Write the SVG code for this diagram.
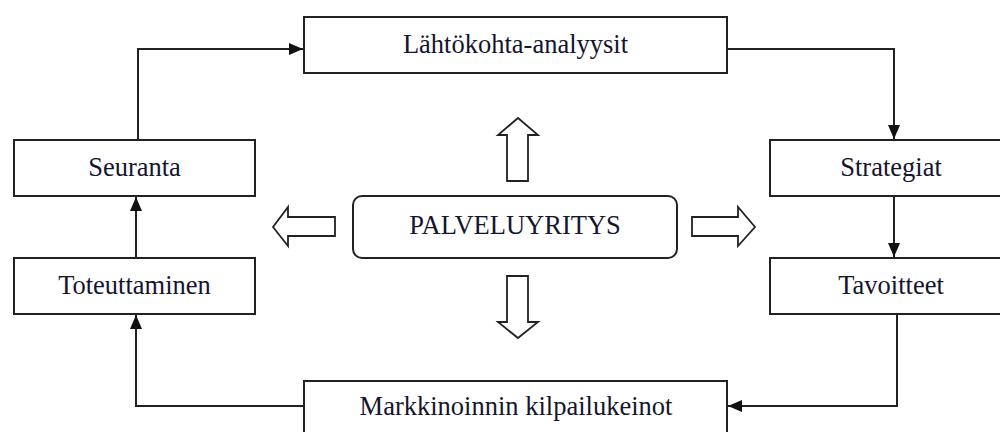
<svg xmlns="http://www.w3.org/2000/svg" width="1000" height="432" viewBox="0 0 1000 432">
<style>
.box{fill:#fff;stroke:#222;stroke-width:2}
.lbl{font-family:'Liberation Serif','DejaVu Serif',Times,serif;font-size:26.5px;fill:#15152e;text-anchor:middle}
.con{fill:none;stroke:#222;stroke-width:2}
.blk{fill:#fff;stroke:#222;stroke-width:1.8;stroke-linejoin:miter}
</style>
<defs>
<marker id="ah" viewBox="0 0 14 12" refX="14" refY="6" markerWidth="14" markerHeight="12" markerUnits="userSpaceOnUse" orient="auto">
<path d="M0,0 L14,6 L0,12 Z" fill="#111"/>
</marker>
</defs>
<rect width="1000" height="432" fill="#fff"/>
<g id="connectors">
<path class="con" d="M138,140 V49 H303" marker-end="url(#ah)"/>
<path class="con" d="M727,49 H894 V139" marker-end="url(#ah)"/>
<path class="con" d="M894,196 V257" marker-end="url(#ah)"/>
<path class="con" d="M897,314 V406 H728" marker-end="url(#ah)"/>
<path class="con" d="M304,406 H136 V315" marker-end="url(#ah)"/>
<path class="con" d="M136,258 V197" marker-end="url(#ah)"/>
</g>
<g id="n-lahtokohta">
<rect class="box" x="304" y="17" width="423" height="56"/>
<text class="lbl" x="515.5" y="53">Lähtökohta-analyysit</text>
</g>
<g id="n-strategiat">
<rect class="box" x="770" y="140" width="250" height="56"/>
<text class="lbl" x="891" y="176">Strategiat</text>
</g>
<g id="n-tavoitteet">
<rect class="box" x="770" y="258" width="250" height="56"/>
<text class="lbl" x="891" y="294">Tavoitteet</text>
</g>
<g id="n-markkinointi">
<rect class="box" x="304" y="381" width="423" height="70"/>
<text class="lbl" x="516" y="415">Markkinoinnin kilpailukeinot</text>
</g>
<g id="n-toteuttaminen">
<rect class="box" x="14" y="258" width="241" height="56"/>
<text class="lbl" x="134.5" y="294">Toteuttaminen</text>
</g>
<g id="n-seuranta">
<rect class="box" x="14" y="140" width="241" height="56"/>
<text class="lbl" x="134.5" y="176">Seuranta</text>
</g>
<g id="n-palveluyritys">
<rect class="box" x="353" y="196" width="324" height="62" rx="9" ry="9"/>
<text class="lbl" x="515" y="234">PALVELUYRITYS</text>
</g>
<g id="block-arrows">
<polygon class="blk" points="518,118 538,135 528,135 528,181 507,181 507,135 498,135"/>
<polygon class="blk" points="518,338 538,322 528,322 528,276 507,276 507,322 498,322"/>
<polygon class="blk" points="273,227 288,207 288,217 335,217 335,236 288,236 288,246"/>
<polygon class="blk" points="755,227 738,207 738,217 692,217 692,236 738,236 738,246"/>
</g>
</svg>
